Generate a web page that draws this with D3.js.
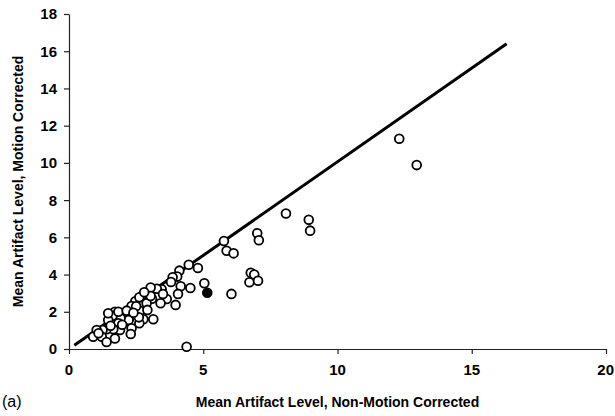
<!DOCTYPE html>
<html>
<head>
<meta charset="utf-8">
<script src="https://cdn.jsdelivr.net/npm/d3@7"></script>
<style>
  body { margin: 0; background: #fff; }
  svg { display: block; font-family: "Liberation Sans", Arial, sans-serif; }
</style>
</head>
<body>
<svg id="chart" width="615" height="416"></svg>
<script>
// open circles: [non-motion corrected, motion corrected]
const openPoints = [
  [12.3, 11.3], [12.95, 9.88], [8.08, 7.28], [8.93, 6.94], [8.98, 6.36],
  [7.01, 6.22], [7.07, 5.84], [5.77, 5.8], [5.87, 5.28], [6.13, 5.14],
  [6.77, 4.1], [6.9, 4.0], [6.72, 3.59], [7.04, 3.67], [6.05, 2.96],
  [5.04, 3.53], [4.38, 0.12], [4.46, 4.53], [4.8, 4.35], [4.11, 4.21],
  [4.03, 3.89], [3.86, 3.85], [4.16, 3.37], [4.52, 3.28], [4.06, 2.96],
  [3.97, 2.37], [3.64, 2.69], [3.41, 2.46], [3.45, 3.21], [3.27, 3.24],
  [3.04, 3.3], [3.09, 2.7], [2.68, 2.8], [2.89, 2.46], [2.47, 2.56],
  [2.33, 2.31], [2.64, 2.06], [3.14, 1.6], [2.77, 1.6], [2.62, 1.38],
  [2.27, 1.7], [2.05, 1.92], [2.22, 1.56], [2.33, 1.11], [2.3, 0.81],
  [1.92, 1.65], [1.71, 2.0], [1.62, 1.79], [1.46, 1.56], [1.84, 1.38],
  [1.9, 1.02], [1.65, 1.06], [1.4, 1.06], [1.25, 1.02], [1.03, 1.02],
  [0.9, 0.66], [1.22, 0.66], [1.4, 0.38], [1.71, 0.57], [1.46, 1.92],
  [1.84, 2.0], [2.15, 2.06], [2.62, 2.78], [3.04, 2.85], [2.92, 2.1],
  [2.6, 1.7], [2.5, 2.3], [1.98, 1.3], [2.8, 3.05], [3.5, 2.95],
  [2.4, 1.95], [1.55, 1.25], [3.8, 3.6], [1.1, 0.85]
];
// filled circle
const filledPoints = [[5.15, 3.02]];
// identity reference line
const linePoints = [[0.2, 0.2], [16.3, 16.4]];

const xTicks = [0, 5, 10, 15, 20];
const yTicks = [0, 2, 4, 6, 8, 10, 12, 14, 16, 18];
const xTitle = "Mean Artifact Level, Non-Motion Corrected";
const yTitle = "Mean Artifact Level, Motion Corrected";
const panelLabel = "(a)";

const svg = d3.select("#chart");
const margin = { top: 14, right: 9, bottom: 67, left: 69 };
const width = 615, height = 416;
const innerWidth = width - margin.left - margin.right;
const innerHeight = height - margin.top - margin.bottom;

const x = d3.scaleLinear().domain([0, 20]).range([margin.left, margin.left + innerWidth]);
const y = d3.scaleLinear().domain([0, 18]).range([margin.top + innerHeight, margin.top]);

// AXES (lines and ticks from d3, labels placed with the same scales)
const xAxis = svg.append("g")
    .attr("transform", `translate(0,${margin.top + innerHeight})`)
    .call(d3.axisBottom(x).tickValues(xTicks).tickSize(5).tickSizeOuter(0).tickFormat(""));
const yAxis = svg.append("g")
    .attr("transform", `translate(${margin.left},0)`)
    .call(d3.axisLeft(y).tickValues(yTicks).tickSize(5).tickSizeOuter(0).tickFormat(""));

[xAxis, yAxis].forEach(a => {
    a.selectAll("path, line").attr("stroke", "#222").attr("stroke-width", 1.2);
});

svg.append("g").selectAll("text")
    .data(xTicks)
    .enter().append("text")
    .attr("x", d => d === 20 ? x(d) + 8 : x(d))
    .attr("y", margin.top + innerHeight + 26)
    .attr("text-anchor", d => d === 20 ? "end" : "middle")
    .style("font-size", "15px")
    .style("font-weight", "bold")
    .text(d => d);

svg.append("g").selectAll("text")
    .data(yTicks)
    .enter().append("text")
    .attr("x", margin.left - 12)
    .attr("y", d => y(d))
    .attr("dy", "0.36em")
    .attr("text-anchor", "end")
    .style("font-size", "15px")
    .style("font-weight", "bold")
    .text(d => d);

// LINE
const line = d3.line().x(d => x(d[0])).y(d => y(d[1]));
svg.append("path")
    .datum(linePoints)
    .attr("fill", "none")
    .attr("stroke", "#000")
    .attr("stroke-width", 3)
    .attr("d", line);

// DOTS
svg.selectAll(".open")
    .data(openPoints)
    .enter().append("circle")
    .attr("class", "open")
    .attr("cx", d => x(d[0]))
    .attr("cy", d => y(d[1]))
    .attr("r", 4.4)
    .attr("fill", "#fff")
    .attr("stroke", "#000")
    .attr("stroke-width", 1.8);

svg.selectAll(".filled")
    .data(filledPoints)
    .enter().append("circle")
    .attr("class", "filled")
    .attr("cx", d => x(d[0]))
    .attr("cy", d => y(d[1]))
    .attr("r", 4.4)
    .attr("fill", "#000")
    .attr("stroke", "#000")
    .attr("stroke-width", 1.8);

// LABELS
svg.append("text")
    .attr("x", margin.left + innerWidth / 2)
    .attr("y", 407)
    .attr("text-anchor", "middle")
    .style("font-size", "14px")
    .style("font-weight", "bold")
    .text(xTitle);

svg.append("text")
    .attr("transform", `translate(23,${margin.top + innerHeight / 2}) rotate(-90)`)
    .attr("text-anchor", "middle")
    .style("font-size", "14px")
    .style("font-weight", "bold")
    .text(yTitle);

svg.append("text")
    .attr("x", 2)
    .attr("y", 407)
    .style("font-size", "16px")
    .text(panelLabel);
</script>
</body>
</html>
